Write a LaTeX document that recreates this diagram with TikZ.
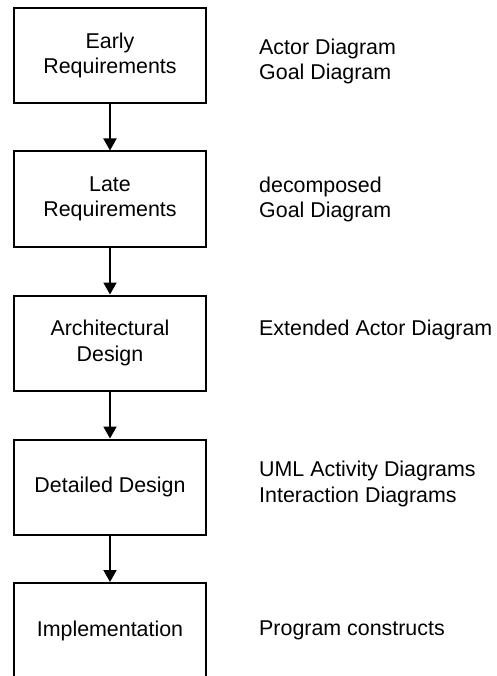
\documentclass[tikz,border=0pt]{standalone}
\usepackage{fontspec}
\setmainfont{Liberation Sans}
\usetikzlibrary{arrows.meta}
\begin{document}
\begin{tikzpicture}[x=1pt,y=-1pt,
  phase/.style={draw=black,line width=2pt,minimum width=192pt,minimum height=95pt,
    inner sep=0pt,align=center,font=\fontsize{21.4}{25.5}\selectfont},
  artefact/.style={anchor=base west,inner sep=0pt,align=left,
    font=\fontsize{21.4}{25.5}\selectfont},
  flow/.style={line width=2pt,-{Triangle[width=13pt,length=12pt]}}]
  \path[use as bounding box,clip] (0,0) rectangle (496,676);

  % development phases
  \node[phase] (early) at (110,55.5) {Early\\Requirements};
  \node[phase] (late)  at (110,199)  {Late\\Requirements};
  \node[phase] (arch)  at (110,343)  {Architectural\\Design};
  \node[phase] (det)   at (110,487)  {Detailed Design};
  \node[phase,minimum height=96pt] (impl) at (110,631) {Implementation};

  % flow between phases
  \draw[flow] (early.south) -- (late.north);
  \draw[flow] (late.south) -- (arch.north);
  \draw[flow] (arch.south) -- (det.north);
  \draw[flow] (det.south) -- (impl.north);

  % artefacts produced in each phase (base = baseline of the last line)
  \node[artefact] (a1) at (259,80)  {Actor Diagram\\Goal Diagram};
  \node[artefact] (a2) at (259,218) {decomposed\\Goal Diagram};
  \node[artefact] (a3) at (259,335) {Extended Actor Diagram};
  \node[artefact] (a4) at (259,502) {UML Activity Diagrams\\Interaction Diagrams};
  \node[artefact] (a5) at (259,635) {Program constructs};
\end{tikzpicture}
\end{document}
